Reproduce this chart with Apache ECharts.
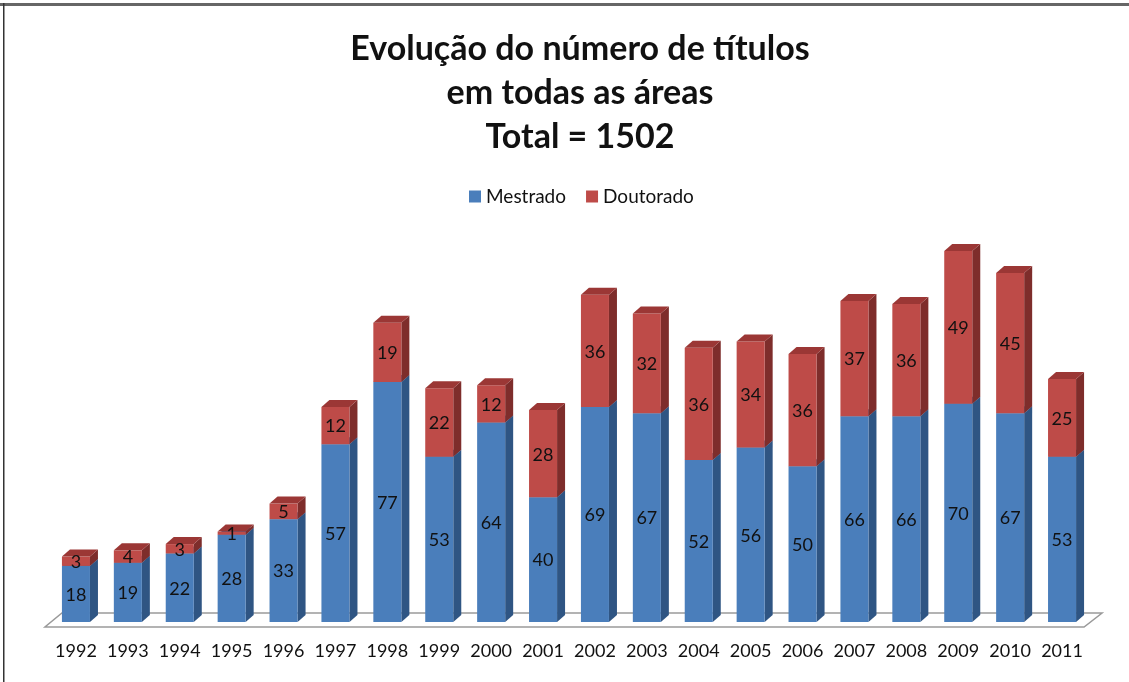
<!DOCTYPE html>
<html><head><meta charset="utf-8">
<script src="https://cdn.jsdelivr.net/npm/echarts@6/dist/echarts.min.js"></script>
<style>html,body{margin:0;padding:0;background:#fff}#c{width:1129px;height:682px}</style>
</head><body><div id="c"></div>
<script>
const years = ['1992','1993','1994','1995','1996','1997','1998','1999','2000','2001','2002','2003','2004','2005','2006','2007','2008','2009','2010','2011'];
const mestrado = [18,19,22,28,33,57,77,53,64,40,69,67,52,56,50,66,66,70,67,53];
const doutorado = [3,4,3,1,5,12,19,22,12,28,36,32,36,34,36,37,36,49,45,25];
const titleText = 'Evolução do número de títulos\nem todas as áreas\nTotal = 1502';

const FONT = 'Lato';
const DX = 8, DY = -7, BW = 0.54;
const colors = {
  m: {front:'#4A7EBB', side:'#2F5583', top:'#3D6A9E'},
  d: {front:'#BE4B48', side:'#7E2D2B', top:'#9B3735'}
};

function makeRender(key, withTop) {
  const c = colors[key];
  return function (params, api) {
    const x = api.value(0), base = api.value(1), v = api.value(2);
    const p0 = api.coord([x, base]);
    const p1 = api.coord([x, base + v]);
    const w = api.size([1, 0])[0] * BW;
    const l = p0[0] - w / 2, r = p0[0] + w / 2;
    const b = p0[1], t = p1[1];
    const children = [
      {type:'polygon', shape:{points:[[r,b],[r+DX,b+DY],[r+DX,t+DY],[r,t]]}, style:{fill:c.side}},
      {type:'rect', shape:{x:l, y:t, width:w, height:b-t}, style:{fill:c.front}}
    ];
    if (withTop) children.push({type:'polygon', shape:{points:[[l,t],[l+DX,t+DY],[r+DX,t+DY],[r,t]]}, style:{fill:c.top}});
    children.push({type:'text', style:{text:String(v), x:p0[0], y:(b+t)/2+1, align:'center', verticalAlign:'middle', fill:'#111', font:'18px ' + FONT}});
    return {type:'group', children};
  };
}

const mData = mestrado.map((v,i)=>[i,0,v]);
const dData = doutorado.map((v,i)=>[i,mestrado[i],v]);

const chart = echarts.init(document.getElementById('c'), null, {renderer:'canvas'});
chart.setOption({
  backgroundColor:'#fff',
  animation:false,
  title:{text:titleText, left:575, textAlign:'center', top:22, textStyle:{fontFamily:FONT, fontWeight:'bold', fontSize:34, lineHeight:44, color:'#111', align:'center'}},
  legend:{top:182, left:464, itemWidth:12, itemHeight:12, itemGap:20, icon:'rect',
    textStyle:{fontFamily:FONT, fontSize:19, color:'#111'},
    data:[{name:'Mestrado', itemStyle:{color:colors.m.front}},{name:'Doutorado', itemStyle:{color:colors.d.front}}]},
  grid:{left:50, right:41, top:248, bottom:60},
  xAxis:{type:'category', data:years, axisLine:{show:false}, axisTick:{show:false},
    axisLabel:{interval:0, margin:20, fontFamily:FONT, fontSize:18, color:'#111'}},
  yAxis:{type:'value', min:0, max:120, show:false, splitLine:{show:false}},
  series:[
    {type:'custom', name:'floor', silent:true, z:1, data:[[0]],
      renderItem:function(params, api){
        const a = api.coord([0,0]), z = api.coord([years.length-1,0]);
        const w = api.size([1,0])[0]*BW;
        const fl = a[0]-w/2, fr = z[0]+w/2, y = a[1];
        return {type:'polygon', shape:{points:[[fl-17,y+5],[fr+8,y+5],[fr+26,y-9],[fl,y-9]]},
          style:{fill:'#fff', stroke:'#9A9A9A', lineWidth:1.5}};
      }},
    {type:'custom', name:'Mestrado', z:2, data:mData, itemStyle:{color:colors.m.front}, renderItem:makeRender('m', true)},
    {type:'custom', name:'Doutorado', z:3, data:dData, itemStyle:{color:colors.d.front}, renderItem:makeRender('d', true)}
  ],
  graphic:[
    {type:'rect', shape:{x:0, y:3, width:1129, height:3}, style:{fill:'#666'}, z:10},
    {type:'rect', shape:{x:3, y:3, width:1.5, height:679}, style:{fill:'#333'}, z:10}
  ]
});
</script></body></html>
